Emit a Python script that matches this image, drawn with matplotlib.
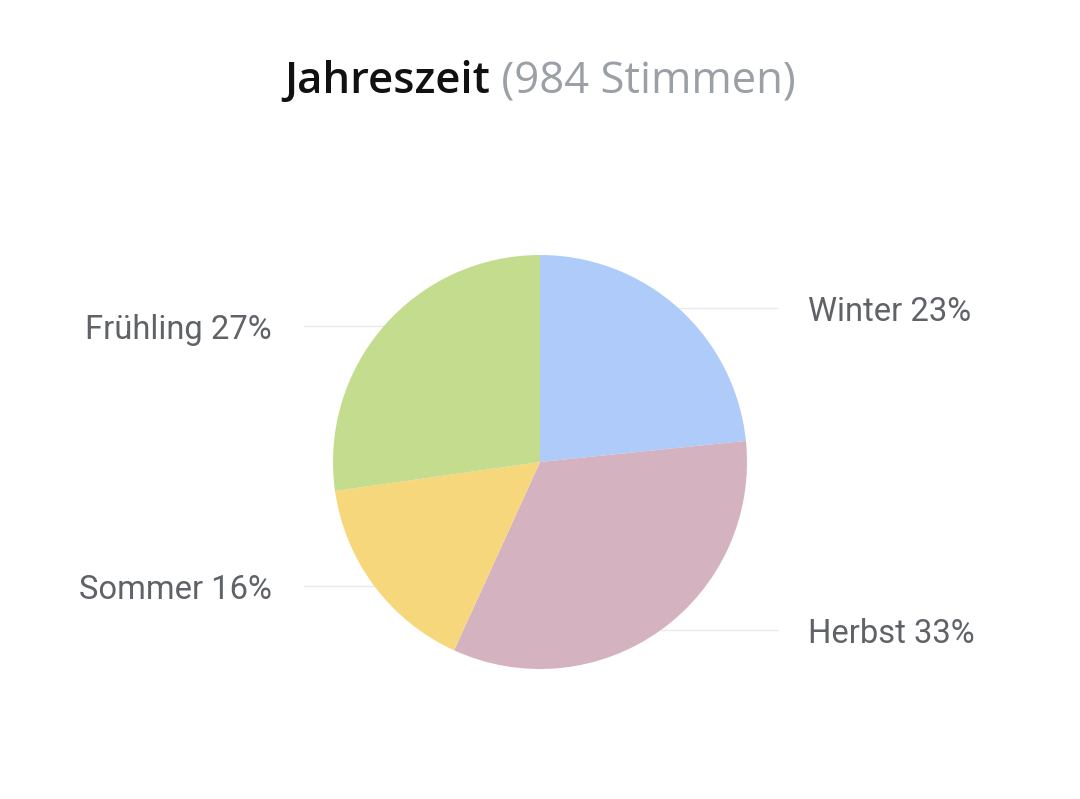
import matplotlib
matplotlib.use("Agg")
import matplotlib.pyplot as plt
import numpy as np

categories = ["Winter", "Herbst", "Sommer", "Frühling"]
votes = [230, 329, 157, 268]
colors = ["#aecbfa", "#d4b2bf", "#f7d77c", "#c3dc8e"]
title_main = "Jahreszeit"
title_sub = "(984 Stimmen)"

W, H = 1080, 799
fig = plt.figure(figsize=(W / 100, H / 100), dpi=100)
ax = fig.add_axes([0, 0, 1, 1])
ax.set_axis_off()

cx, cy, r = 540, H - 462, 207
wedges, _ = ax.pie(votes, colors=colors, startangle=90, counterclock=False,
                   center=(cx, cy), radius=r, frame=False,
                   wedgeprops=dict(linewidth=0))
for w in wedges:
    w.set_zorder(3)
ax.set_xlim(0, W)
ax.set_ylim(0, H)
ax.set_aspect("equal")

total = sum(votes)
for w, cat, v in zip(wedges, categories, votes):
    mid = np.deg2rad((w.theta1 + w.theta2) / 2)
    px = cx + r * np.cos(mid)
    py = cy + r * np.sin(mid)
    pct = round(100 * v / total)
    label = f"{cat} {pct}%"
    if px >= cx:
        ax.plot([px, 777], [py, py], color="#e8eaed", lw=1, zorder=1)
        ax.text(808, py - 4, label, ha="left", va="center", fontsize=23.6,
                family="Roboto", color="#5f6368")
    else:
        ax.plot([304, px], [py, py], color="#e8eaed", lw=1, zorder=1)
        ax.text(272, py - 4, label, ha="right", va="center", fontsize=23.6,
                family="Roboto", color="#5f6368")

# Title in two colours, centred
t1 = ax.text(0, H - 82, title_main, ha="left", va="center", fontsize=31.4,
             family="Open Sans", fontweight="semibold", color="#111111")
t2 = ax.text(0, H - 82, " " + title_sub, ha="left", va="center", fontsize=31.4,
             family="Open Sans", color="#9aa0a6")
fig.canvas.draw()
ren = fig.canvas.get_renderer()
w1 = t1.get_window_extent(ren).width
w2 = t2.get_window_extent(ren).width
start = 540 - (w1 + w2) / 2
t1.set_x(start)
t2.set_x(start + w1)

fig.savefig("out.png", dpi=100, facecolor="white")
